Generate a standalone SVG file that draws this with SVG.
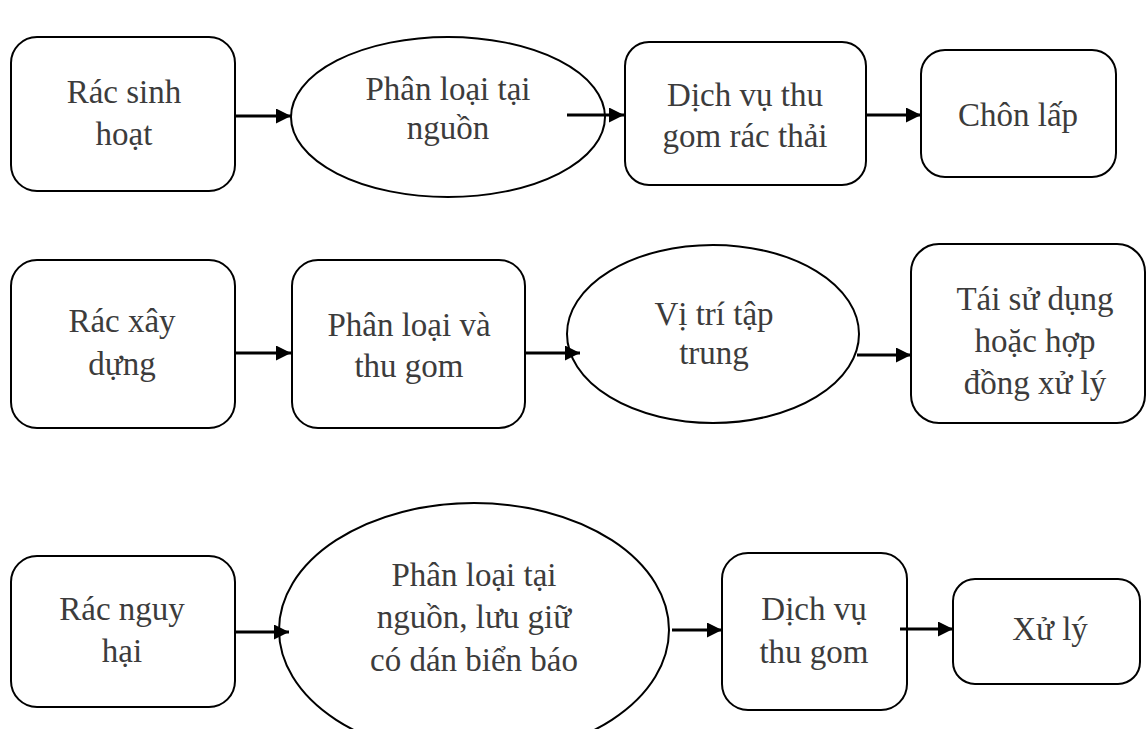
<svg xmlns="http://www.w3.org/2000/svg" width="1146" height="729" viewBox="0 0 1146 729">
  <defs>
    <marker id="arrow" viewBox="0 0 10 10" refX="10" refY="5" markerWidth="5.5" markerHeight="5" markerUnits="strokeWidth" orient="auto">
      <path d="M0,0 L10,5 L0,10 z" fill="#000"/>
    </marker>
    <style>
      .box { fill: #fff; stroke: #000; stroke-width: 2; }
      .lbl { font-family: "Liberation Serif", "Times New Roman", serif; font-size: 33px; fill: #3c3c3c; text-anchor: middle; }
      .conn line { stroke: #000; stroke-width: 3; marker-end: url(#arrow); }
    </style>
  </defs>
  <rect width="1146" height="729" fill="#fff"/>

  <!-- Row 1: household waste -->
  <g id="rac-sinh-hoat">
    <rect class="box" x="11" y="37" width="224" height="154" rx="26"/>
    <text class="lbl" x="124" y="103">Rác sinh</text>
    <text class="lbl" x="124" y="145">hoạt</text>
  </g>
  <g id="phan-loai-tai-nguon-1">
    <ellipse class="box" cx="448" cy="117" rx="157" ry="80"/>
    <text class="lbl" x="448" y="100">Phân loại tại</text>
    <text class="lbl" x="448" y="139">nguồn</text>
  </g>
  <g id="dich-vu-thu-gom-rac-thai">
    <rect class="box" x="625" y="42" width="241" height="143" rx="24"/>
    <text class="lbl" x="745" y="106">Dịch vụ thu</text>
    <text class="lbl" x="745" y="147">gom rác thải</text>
  </g>
  <g id="chon-lap">
    <rect class="box" x="921" y="50" width="195" height="127" rx="24"/>
    <text class="lbl" x="1018" y="126">Chôn lấp</text>
  </g>

  <!-- Row 2: construction waste -->
  <g id="rac-xay-dung">
    <rect class="box" x="11" y="260" width="224" height="168" rx="26"/>
    <text class="lbl" x="122" y="332">Rác xây</text>
    <text class="lbl" x="122" y="375">dựng</text>
  </g>
  <g id="phan-loai-va-thu-gom">
    <rect class="box" x="292" y="260" width="233" height="168" rx="26"/>
    <text class="lbl" x="409" y="336">Phân loại và</text>
    <text class="lbl" x="409" y="377">thu gom</text>
  </g>
  <g id="vi-tri-tap-trung">
    <ellipse class="box" cx="713" cy="334" rx="146" ry="89"/>
    <text class="lbl" x="714" y="325">Vị trí tập</text>
    <text class="lbl" x="714" y="364">trung</text>
  </g>
  <g id="tai-su-dung">
    <rect class="box" x="911" y="244" width="234" height="179" rx="28"/>
    <text class="lbl" x="1035" y="310">Tái sử dụng</text>
    <text class="lbl" x="1035" y="352">hoặc hợp</text>
    <text class="lbl" x="1035" y="394">đồng xử lý</text>
  </g>

  <!-- Row 3: hazardous waste -->
  <g id="rac-nguy-hai">
    <rect class="box" x="11" y="556" width="224" height="151" rx="26"/>
    <text class="lbl" x="122" y="620">Rác nguy</text>
    <text class="lbl" x="122" y="662">hại</text>
  </g>
  <g id="phan-loai-luu-giu">
    <ellipse class="box" cx="474" cy="630" rx="195" ry="127"/>
    <text class="lbl" x="474" y="586">Phân loại tại</text>
    <text class="lbl" x="474" y="628">nguồn, lưu giữ</text>
    <text class="lbl" x="474" y="671">có dán biển báo</text>
  </g>
  <g id="dich-vu-thu-gom">
    <rect class="box" x="722" y="553" width="185" height="157" rx="26"/>
    <text class="lbl" x="814" y="620">Dịch vụ</text>
    <text class="lbl" x="814" y="663">thu gom</text>
  </g>
  <g id="xu-ly">
    <rect class="box" x="953" y="579" width="187" height="105" rx="22"/>
    <text class="lbl" x="1050" y="640">Xử lý</text>
  </g>

  <!-- Connectors -->
  <g id="connectors" class="conn">
    <line x1="235" y1="116" x2="291" y2="116"/>
    <line x1="567" y1="115" x2="624" y2="115"/>
    <line x1="866" y1="115" x2="921" y2="115"/>
    <line x1="235" y1="353" x2="291" y2="353"/>
    <line x1="525" y1="353" x2="580" y2="353"/>
    <line x1="857" y1="355" x2="911" y2="355"/>
    <line x1="235" y1="632" x2="289" y2="632"/>
    <line x1="672" y1="630" x2="722" y2="630"/>
    <line x1="900" y1="629" x2="953" y2="629"/>
  </g>
</svg>
